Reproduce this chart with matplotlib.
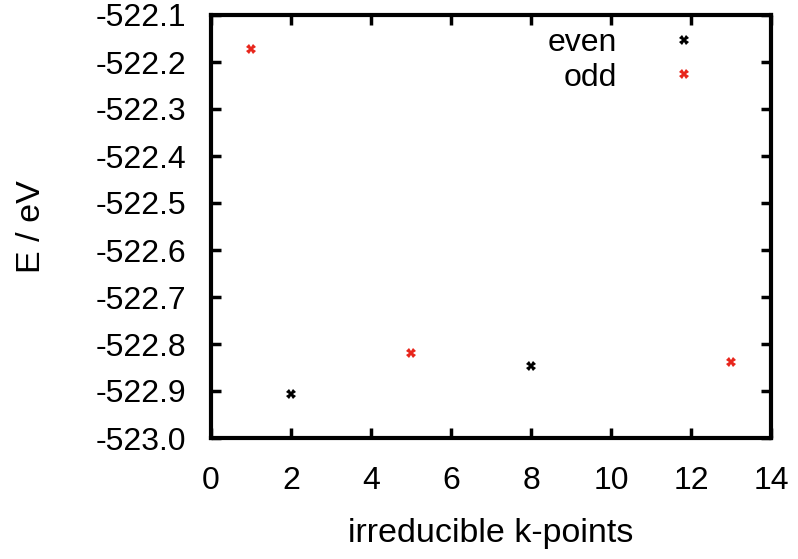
import matplotlib
matplotlib.use("Agg")
import matplotlib.pyplot as plt

plt.rcParams['font.family'] = ['Liberation Sans', 'DejaVu Sans']

even_x = [2, 8]
even_y = [-522.907, -522.847]
odd_x = [1, 5, 13]
odd_y = [-522.173, -522.819, -522.838]

xticks = [0, 2, 4, 6, 8, 10, 12, 14]
yticks = [-523.0, -522.9, -522.8, -522.7, -522.6, -522.5, -522.4, -522.3, -522.2, -522.1]

fig = plt.figure(figsize=(7.98, 5.59), dpi=100)
ax = fig.add_axes([211/798, 1-438/559, (771-211)/798, (438-15)/559])

ax.plot(even_x, even_y, linestyle='none', marker='X', markersize=7, color='black',
        markeredgewidth=0, label='even')
ax.plot(odd_x, odd_y, linestyle='none', marker='X', markersize=7, color='#e8261c',
        markeredgewidth=0, label='odd')

ax.set_xlim(0, 14)
ax.set_ylim(-523.0, -522.1)
ax.set_xticks(xticks)
ax.set_xticklabels([str(t) for t in xticks])
ax.set_yticks(yticks)
ax.set_yticklabels([f"{t:.1f}" for t in yticks])
ax.tick_params(direction='in', length=7, width=2.5, top=True, right=True,
               labelsize=23)
ax.tick_params(axis='x', pad=20)
ax.tick_params(axis='y', pad=18)
for s in ax.spines.values():
    s.set_linewidth(3)

ax.set_xlabel('irreducible k-points', fontsize=24.5, labelpad=16)
ax.set_ylabel('E / eV', fontsize=24.5, labelpad=35)

leg = ax.legend(loc='upper right', frameon=False, fontsize=23, markerfirst=False,
                handletextpad=1.1, borderaxespad=0.0, labelspacing=0.15,
                bbox_to_anchor=(0.925, 1.0))
for t in leg.get_texts():
    t.set_ha('right')

fig.savefig('out.png', dpi=100)
